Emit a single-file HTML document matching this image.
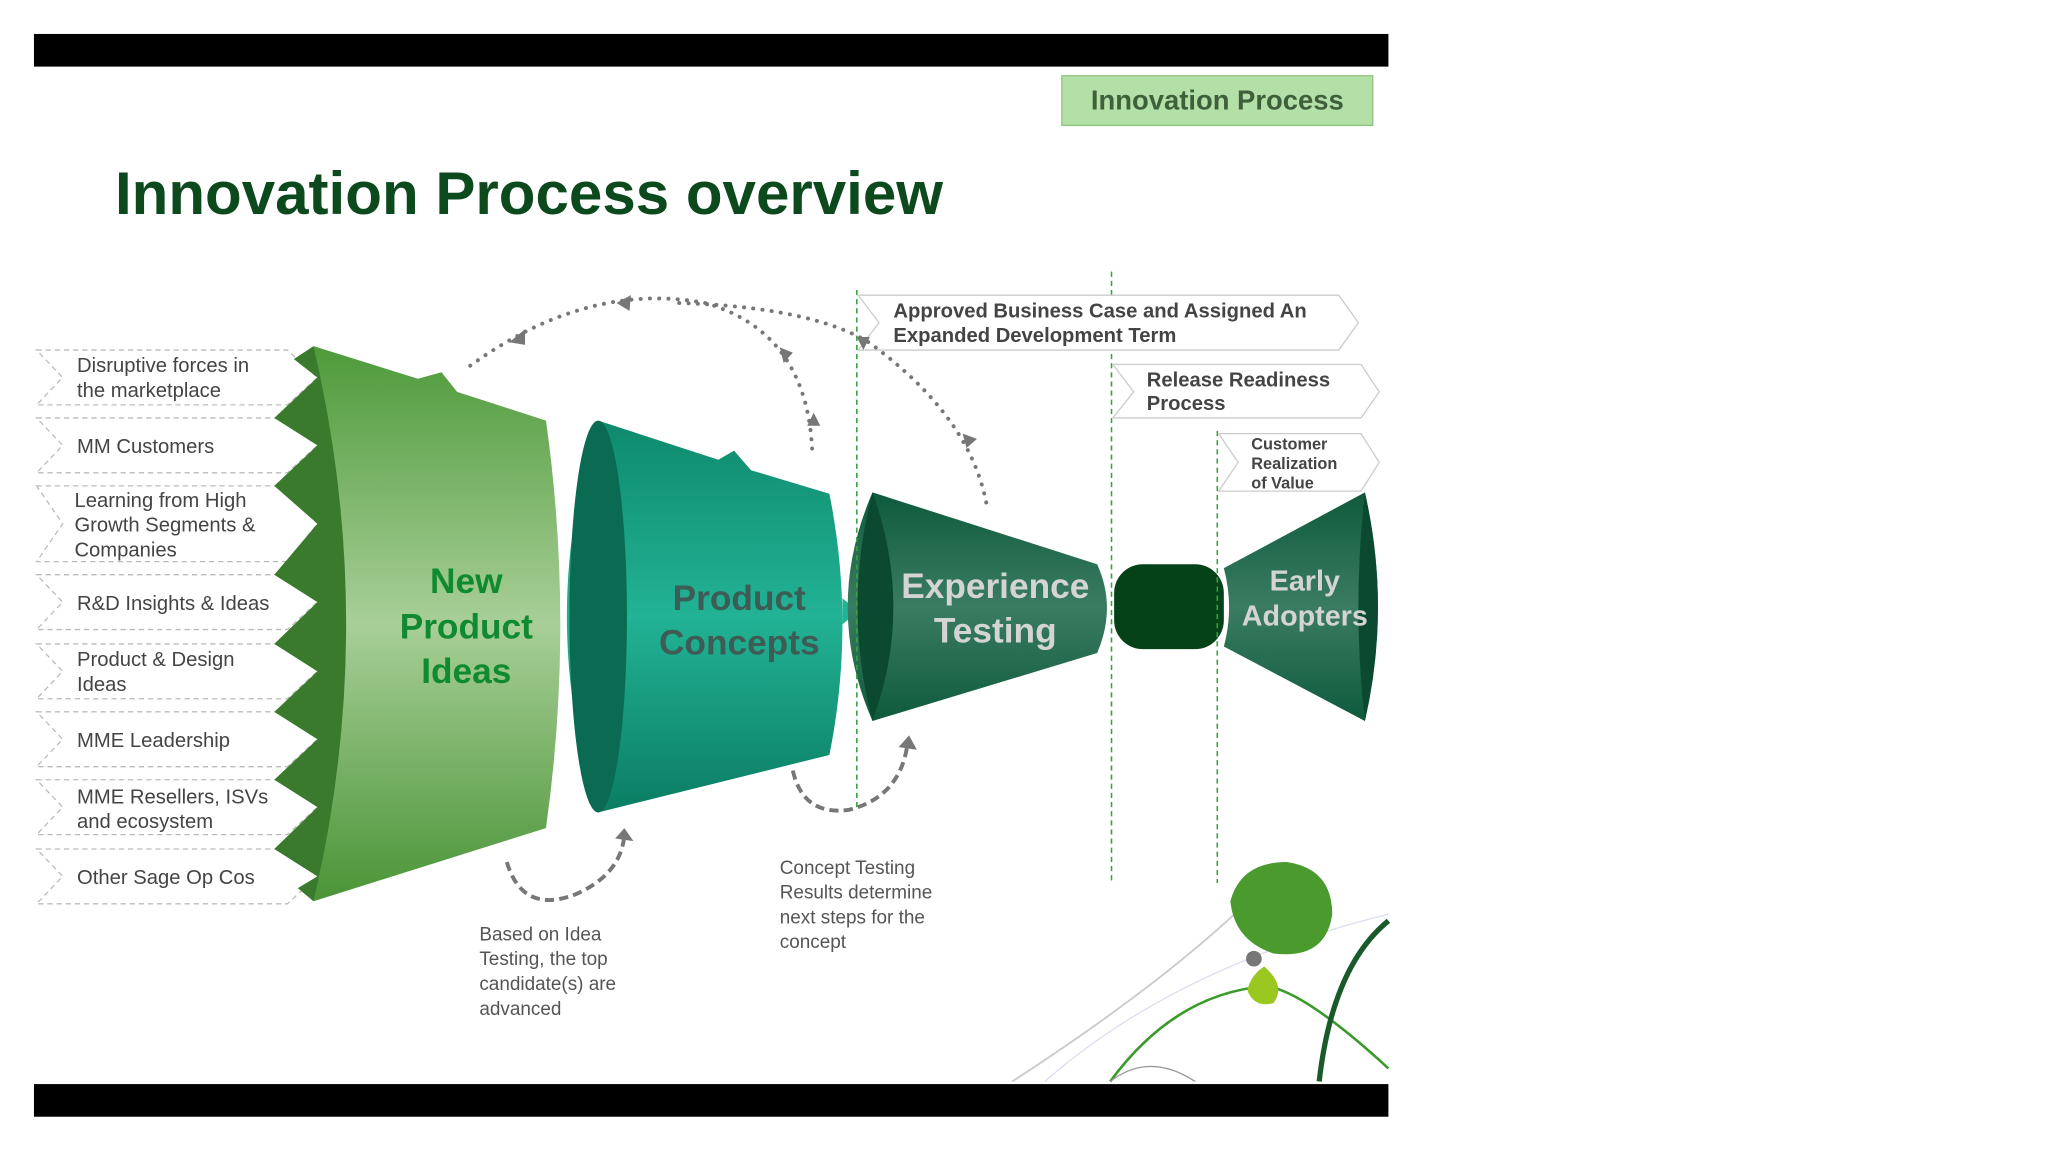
<!DOCTYPE html>
<html><head><meta charset="utf-8"><style>
html,body{margin:0;padding:0;background:#fff;}
svg{display:block;}
text{font-family:"Liberation Sans",sans-serif;}
</style></head><body>
<svg width="2048" height="1152" viewBox="0 0 1568 882" xmlns="http://www.w3.org/2000/svg">
<defs>
<linearGradient id="g1" x1="0" y1="0" x2="0" y2="1">
<stop offset="0" stop-color="#4e9a3a"/><stop offset="0.5" stop-color="#a8cf98"/><stop offset="1" stop-color="#4a9436"/></linearGradient>
<linearGradient id="g2" x1="0" y1="0" x2="0" y2="1">
<stop offset="0" stop-color="#0e8a6c"/><stop offset="0.5" stop-color="#22b295"/><stop offset="1" stop-color="#0a7d62"/></linearGradient>
<linearGradient id="g3" x1="0" y1="0" x2="0" y2="1">
<stop offset="0" stop-color="#0f5a3c"/><stop offset="0.5" stop-color="#3a7c62"/><stop offset="1" stop-color="#0f5a3c"/></linearGradient>
</defs>
<rect x="26" y="26" width="1037" height="25" fill="#000"/>
<rect x="26" y="830" width="1037" height="25" fill="#000"/>
<rect x="813" y="58" width="238" height="38" fill="#b3e0a6" stroke="#8cc47c"/>
<text x="932" y="84" font-size="21" font-weight="bold" fill="#3f5f3a" text-anchor="middle">Innovation Process</text>
<text x="88" y="164" font-size="46" font-weight="bold" fill="#0c4a1e" textLength="634">Innovation Process overview</text>

<!-- left labels -->
<g font-size="15.5" fill="#444">
<g fill="#fff" stroke="#bbb" stroke-dasharray="4,3">
<path d="M28 268 H220 L243 289 L220 310 H28 L48 289 Z"/>
<path d="M28 320 H220 L243 341 L220 362 H28 L48 341 Z"/>
<path d="M28 372 H220 L243 401 L220 430 H28 L48 401 Z"/>
<path d="M28 440 H220 L243 461 L220 482 H28 L48 461 Z"/>
<path d="M28 493 H220 L243 514 L220 535 H28 L48 514 Z"/>
<path d="M28 545 H220 L243 566 L220 587 H28 L48 566 Z"/>
<path d="M28 597 H220 L243 618 L220 639 H28 L48 618 Z"/>
<path d="M28 650 H220 L243 671 L220 692 H28 L48 671 Z"/>
</g>
<text x="59" y="285">Disruptive forces in</text><text x="59" y="304">the marketplace</text>
<text x="59" y="347">MM Customers</text>
<text x="57" y="388">Learning from High</text><text x="57" y="407">Growth Segments &amp;</text><text x="57" y="426">Companies</text>
<text x="59" y="467">R&amp;D Insights &amp; Ideas</text>
<text x="59" y="510">Product &amp;  Design</text><text x="59" y="529">Ideas</text>
<text x="59" y="572">MME Leadership</text>
<text x="59" y="615">MME Resellers, ISVs</text><text x="59" y="634">and ecosystem</text>
<text x="59" y="677">Other Sage Op Cos</text>
</g>

<!-- funnel 1 -->
<path d="M240 265 L320 290 L338 285 L350 300 L418 322 Q440 478 418 634 L240 690 Q275 478 240 265 Z" fill="url(#g1)"/>
<path d="M240 265 Q290 478 240 690 L228 680 L243 671 L210 650 L243 618 L210 597 L243 566 L210 545 L243 514 L210 493 L243 461 L210 440 L243 401 L210 372 L243 341 L210 320 L243 289 L225 275 Z" fill="#3a7a2c"/>
<text font-size="27" font-weight="bold" fill="#0f8a30" text-anchor="middle"><tspan x="357" y="454">New</tspan><tspan x="357" y="489">Product</tspan><tspan x="357" y="523">Ideas</tspan></text>
<path d="M440 465 L453 478 L440 491 Z" fill="#a8cf98"/>

<!-- funnel 2 -->
<path d="M458 322 L550 352 L562 345 L575 360 L635 378 Q655 478 635 578 L458 622 Q410 472 458 322 Z" fill="url(#g2)"/>
<ellipse cx="458" cy="472" rx="22" ry="150" fill="#0a6b52"/>
<text font-size="27" font-weight="bold" fill="#3d5c55" text-anchor="middle"><tspan x="566" y="467">Product</tspan><tspan x="566" y="501">Concepts</tspan></text>
<path d="M645 458 L657 468 L645 478 Z" fill="#22b295"/>

<!-- funnel 3 -->
<path d="M668 377 L840 432 Q855 465 840 500 L668 552 Q630 465 668 377 Z" fill="url(#g3)"/>
<path d="M668 377 Q700 465 668 552 Q645 465 668 377 Z" fill="#0b4a30"/>
<text font-size="27" font-weight="bold" fill="#d4d4d4" text-anchor="middle"><tspan x="762" y="458">Experience</tspan><tspan x="762" y="492">Testing</tspan></text>

<rect x="853" y="432" width="84" height="65" rx="22" fill="#064218"/>

<!-- funnel 4 -->
<path d="M937 435 L1045 377 Q1065 465 1045 552 L937 495 Q945 465 937 435 Z" fill="url(#g3)"/>
<path d="M1045 377 Q1065 465 1045 552 Q1035 465 1045 377 Z" fill="#0b4a30"/>
<text font-size="22" font-weight="bold" fill="#d4d4d4" text-anchor="middle"><tspan x="999" y="452">Early</tspan><tspan x="999" y="479">Adopters</tspan></text>

<!-- dashed lines -->
<g stroke="#3aa040" stroke-dasharray="4,3" stroke-width="1.2">
<line x1="656" y1="222" x2="656" y2="620"/>
<line x1="851" y1="208" x2="851" y2="676"/>
<line x1="932" y1="330" x2="932" y2="676"/>
</g>

<!-- chevron labels -->
<g fill="#fff" stroke="#ccc">
<path d="M657 226 H1025 L1040 247 L1025 268 H657 L673 247 Z"/>
<path d="M852 279 H1042 L1056 300 L1042 320 H852 L868 300 Z"/>
<path d="M933 332 H1042 L1056 354 L1042 376 H933 L948 354 Z"/>
</g>
<g font-weight="bold" fill="#444">
<text x="684" y="243" font-size="15.5">Approved Business Case and Assigned An</text>
<text x="684" y="262" font-size="15.5">Expanded Development Term</text>
<text x="878" y="296" font-size="15.5">Release Readiness</text>
<text x="878" y="314" font-size="15.5">Process</text>
<text x="958" y="344" font-size="12.5">Customer</text>
<text x="958" y="359" font-size="12.5">Realization</text>
<text x="958" y="374" font-size="12.5">of Value</text>
</g>

<!-- dotted arcs -->
<g fill="none" stroke="#777" stroke-width="3" stroke-dasharray="0.1,7" stroke-linecap="round">
<path d="M360 280 Q450 215 540 232 Q620 255 622 350"/>
<path d="M520 232 Q620 235 665 262 Q745 320 756 390"/>
</g>
<g fill="#777">
<path d="M390 262 L402 252 L402 264 Z"/>
<path d="M472 232 L483 226 L482 238 Z"/>
<path d="M597 266 L607 270 L600 278 Z"/>
<path d="M618 326 L628 326 L623 316 Z"/>
<path d="M656 258 L666 258 L661 268 Z"/>
<path d="M737 332 L748 336 L740 343 Z"/>
</g>

<!-- dashed loops -->
<g fill="none" stroke="#777" stroke-width="3" stroke-dasharray="7,4">
<path d="M388 660 Q400 700 440 685 Q475 670 478 640"/>
<path d="M607 590 Q615 625 650 620 Q690 610 695 568"/>
</g>
<g fill="#777"><path d="M471 642 L478 634 L485 644 Z"/><path d="M688 572 L696 563 L702 574 Z"/></g>

<g font-size="14.5" fill="#555">
<text x="367" y="720">Based on Idea</text><text x="367" y="739">Testing, the top</text><text x="367" y="758">candidate(s) are</text><text x="367" y="777">advanced</text>
<text x="597" y="669">Concept Testing</text><text x="597" y="688">Results determine</text><text x="597" y="707">next steps for the</text><text x="597" y="726">concept</text>
</g>

<!-- decoration -->
<g fill="none">
<path d="M775 828 Q880 760 945 700" stroke="#ccc" stroke-width="1.5"/>
<path d="M800 828 Q900 740 1063 700" stroke="#dde" stroke-width="1"/>
<path d="M850 828 Q900 760 970 755 Q1000 760 1063 818" stroke="#3a9a2a" stroke-width="2"/>
<path d="M1010 828 Q1020 740 1063 705" stroke="#1a5a2a" stroke-width="4"/>
<path d="M850 828 Q880 805 915 828" stroke="#999" stroke-width="1"/>
</g>
<path d="M985 660 Q1020 665 1020 700 Q1015 735 975 730 Q945 720 942 690 Q950 660 985 660 Z" fill="#4a9a2e"/>
<circle cx="960" cy="734" r="6" fill="#777"/>
<path d="M968 740 Q985 755 975 768 Q960 772 955 758 Q958 746 968 740 Z" fill="#9ac820"/>
</svg>
</body></html>
